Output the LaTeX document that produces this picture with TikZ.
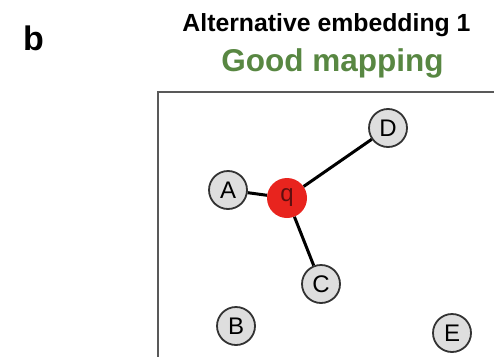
\documentclass[tikz,border=0pt]{standalone}
\usepackage{fontspec}
\setmainfont{Liberation Sans}
\definecolor{goodgreen}{RGB}{88,135,66}
\definecolor{qred}{RGB}{232,36,30}
\definecolor{qtext}{RGB}{95,15,15}
\definecolor{nodegray}{RGB}{222,222,222}
\begin{document}
\begin{tikzpicture}[x=1pt,y=-1pt,
  vert/.style={circle,draw=black!80,line width=1.8pt,fill=nodegray,minimum size=38pt,inner sep=0pt,font=\fontsize{24}{24}\selectfont},
  qnode/.style={circle,fill=qred,minimum size=40pt,inner sep=0pt,font=\fontsize{24}{24}\selectfont,text=qtext},
  edge/.style={line width=3pt,black}]
\useasboundingbox (0,0) rectangle (494,356);
\begin{scope}
\clip (0,0) rectangle (494,356);
\draw[line width=2.2pt,black!65] (158,92) rectangle (540,400);
\end{scope}
\node[font=\bfseries\fontsize{34}{34}\selectfont, anchor=base west, inner sep=0pt] (lab) at (23,50) {b};
\node[font=\bfseries\fontsize{24.8}{24.8}\selectfont, anchor=base, inner sep=0pt] (t1) at (326.5,31.5) {Alternative embedding 1};
\node[text=goodgreen, font=\bfseries\fontsize{31.5}{31.5}\selectfont, anchor=base, inner sep=0pt] (t2) at (332.5,71) {Good mapping};
\node[qnode] (q) at (287,198) {q};
\node[vert] (A) at (228,190) {A};
\node[vert] (D) at (388,128) {D};
\node[vert] (C) at (321,284) {C};
\node[vert] (B) at (236,326) {B};
\node[vert] (E) at (452,333) {E};
\draw[edge] (q) -- (A);
\draw[edge] (q) -- (D);
\draw[edge] (q) -- (C);
\end{tikzpicture}
\end{document}
